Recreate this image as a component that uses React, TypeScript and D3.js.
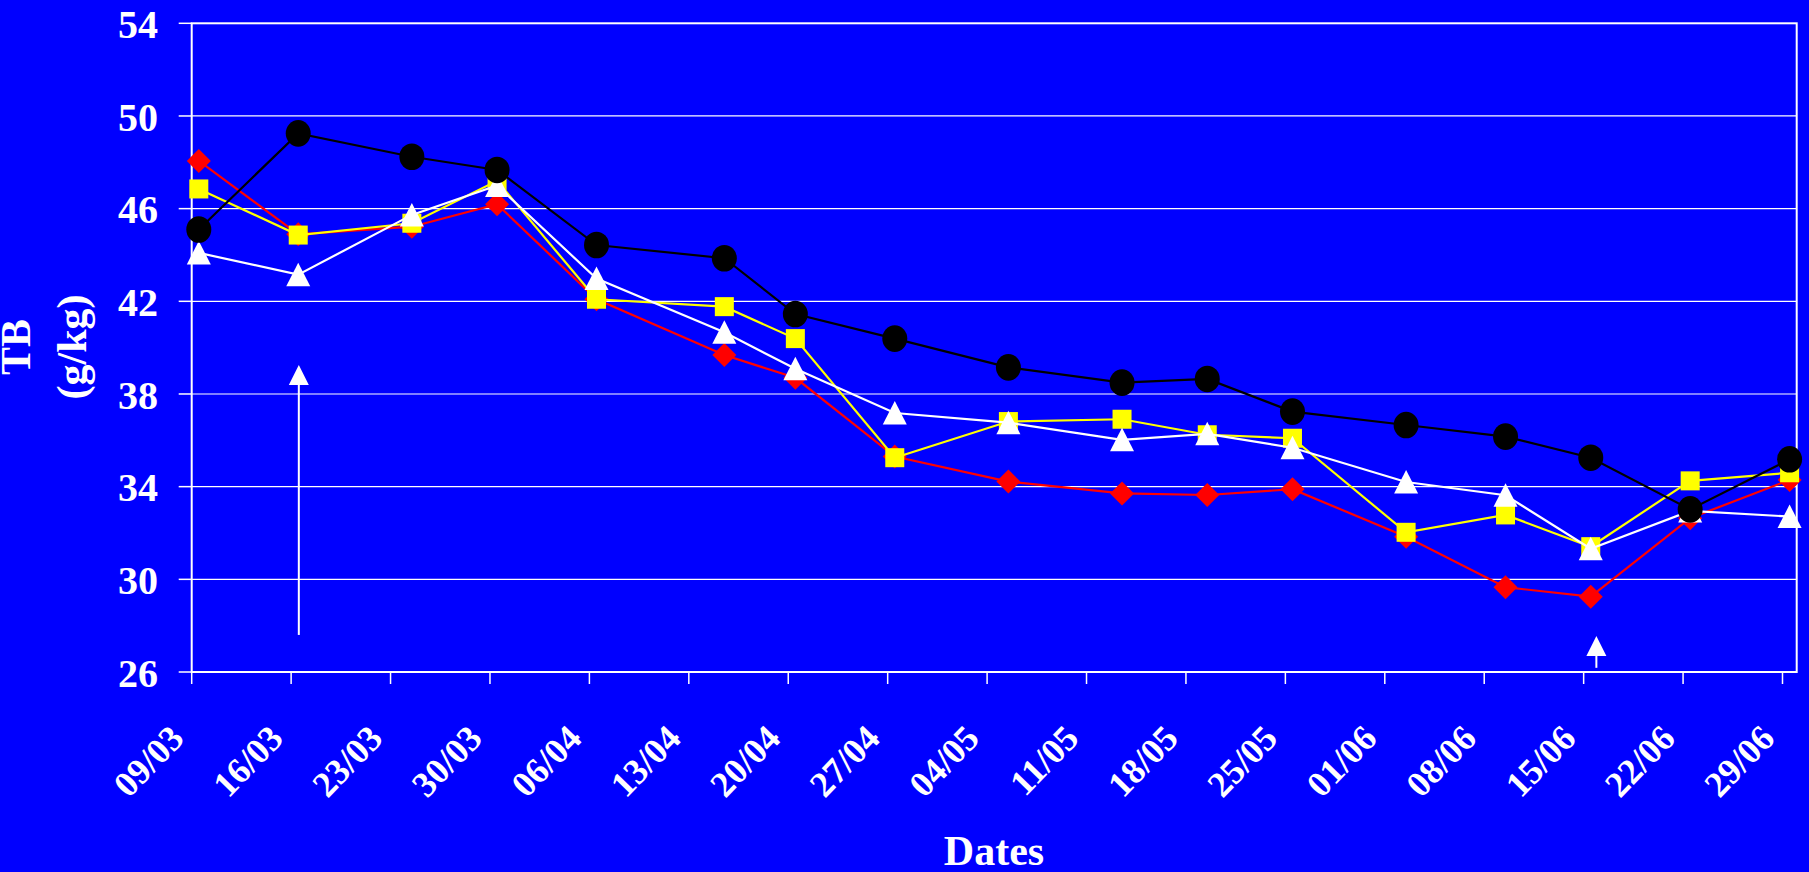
import * as d3 from "d3";

// sample dates (dd/mm), all series share them
const sampleDates = ["09/03", "16/03", "24/03", "30/03", "06/04", "15/04", "20/04", "27/04", "05/05", "13/05", "19/05", "25/05", "02/06", "09/06", "15/06", "22/06", "29/06"];

const circleSeries = [45.1, 49.25, 48.24, 47.67, 44.43, 43.86, 41.45, 40.39, 39.15, 38.49, 38.65, 37.24, 36.66, 36.16, 35.25, 33.02, 35.18];
const diamondSeries = [48.06, 44.89, 45.22, 46.19, 42.09, 39.68, 38.7, 35.3, 34.22, 33.71, 33.64, 33.89, 31.84, 29.66, 29.25, 32.64, 34.29];
const squareSeries = [46.85, 44.86, 45.37, 47.2, 42.09, 41.77, 40.39, 35.25, 36.81, 36.91, 36.24, 36.09, 32.03, 32.78, 31.41, 34.25, 34.6];
const triangleSeries = [44.09, 43.15, 45.73, 47.0, 42.98, 40.66, 39.09, 37.18, 36.76, 36.02, 36.28, 35.68, 34.2, 33.63, 31.32, 32.95, 32.71];

const yTicks = [26, 30, 34, 38, 42, 46, 50, 54];

// arrows: date + time, top and bottom in g/kg
const arrows = [
  { at: "16/03 13:00", top: 39.25, bottom: 27.6 },
  { at: "15/06 21:30", top: 27.55, bottom: 26.18 },
];

const W = 1809;
const H = 872;
const margin = { top: 23.3, right: 12.3, bottom: 200, left: 191.7 };
const FONT = "'Liberation Serif', 'Times New Roman', serif";

const parseDay = (s: string) => {
  const [d, m] = s.split("/").map(Number);
  return new Date(Date.UTC(2004, m - 1, d, 12));
};
const parseAt = (s: string) => {
  const [dm, hm] = s.split(" ");
  const [d, m] = dm.split("/").map(Number);
  const [h, mi] = hm.split(":").map(Number);
  return new Date(Date.UTC(2004, m - 1, d, h, mi));
};

const App = () => {
  const start = new Date(Date.UTC(2004, 2, 9));
  const end = new Date(Date.UTC(2004, 5, 30));
  const x = d3.scaleUtc().domain([start, end]).range([margin.left, W - margin.right]);
  const y = d3.scaleLinear().domain([26, 54]).range([672, margin.top]);
  const xTicks = d3.utcDay.range(start, end, 7);
  const fmt = d3.utcFormat("%d/%m");
  const dates = sampleDates.map(parseDay);

  const line = (vals: number[]) =>
    d3
      .line<number>()
      .x((_, i) => x(dates[i]))
      .y((v) => y(v))(vals) || "";

  const series = [
    { vals: diamondSeries, color: "#ff0000", shape: "diamond" },
    { vals: squareSeries, color: "#ffff00", shape: "square" },
    { vals: triangleSeries, color: "#ffffff", shape: "triangle" },
    { vals: circleSeries, color: "#000000", shape: "circle" },
  ];

  const marker = (shape: string, cx: number, cy: number, color: string, key: number) => {
    if (shape === "circle") return <ellipse key={key} cx={cx} cy={cy} rx={12.5} ry={13.3} fill={color} />;
    if (shape === "square") return <rect key={key} x={cx - 9.5} y={cy - 9.5} width={19} height={19} fill={color} />;
    if (shape === "diamond")
      return <path key={key} d={`M${cx},${cy - 12}L${cx + 12},${cy}L${cx},${cy + 12}L${cx - 12},${cy}Z`} fill={color} />;
    return <path key={key} d={`M${cx},${cy - 12}L${cx + 12},${cy + 11.5}L${cx - 12},${cy + 11.5}Z`} fill={color} />;
  };

  const x0 = margin.left;
  const x1 = W - margin.right;

  return (
    <svg width={W} height={H} style={{ position: "absolute", left: 0, top: 0, display: "block" }} fontFamily={FONT} fontWeight="bold">
      <rect width={W} height={H} fill="#0000ff" />

      {/* gridlines */}
      {yTicks.slice(1, -1).map((t) => (
        <line key={t} x1={x0} x2={x1} y1={y(t)} y2={y(t)} stroke="#ffffff" strokeWidth={1.2} />
      ))}
      {/* plot border */}
      <rect x={x0} y={y(54)} width={x1 - x0} height={y(26) - y(54)} fill="none" stroke="#ffffff" strokeWidth={2} />

      {/* y axis ticks + labels */}
      {yTicks.map((t) => (
        <g key={t}>
          <line x1={x0 - 13} x2={x0} y1={y(t)} y2={y(t)} stroke="#ffffff" strokeWidth={1.5} />
          <text x={158} y={y(t)} dy="0.37em" textAnchor="end" fontSize={40} fill="#ffffff">
            {t}
          </text>
        </g>
      ))}

      {/* x axis ticks + labels */}
      {xTicks.map((d, i) => (
        <g key={i}>
          <line x1={x(d)} x2={x(d)} y1={y(26)} y2={y(26) + 12} stroke="#ffffff" strokeWidth={1.5} />
          <text
            transform={`translate(${x(d) - 6},740) rotate(-46)`}
            textAnchor="end"
            fontSize={36}
            fill="#ffffff"
          >
            {fmt(d)}
          </text>
        </g>
      ))}

      {/* axis titles */}
      <text x={994} y={865} textAnchor="middle" fontSize={42} fill="#ffffff">
        Dates
      </text>
      <text transform="translate(30,347) rotate(-90)" textAnchor="middle" fontSize={42} fill="#ffffff">
        TB
      </text>
      <text transform="translate(85.5,347) rotate(-90)" textAnchor="middle" fontSize={42} fill="#ffffff">
        (g/kg)
      </text>

      {/* arrows */}
      {arrows.map((a, i) => {
        const ax = x(parseAt(a.at));
        const top = y(a.top);
        const bot = y(a.bottom);
        return (
          <g key={i}>
            <line x1={ax} x2={ax} y1={top + 18} y2={bot} stroke="#ffffff" strokeWidth={2} />
            <path d={`M${ax},${top}L${ax + 10},${top + 20}L${ax - 10},${top + 20}Z`} fill="#ffffff" />
          </g>
        );
      })}

      {/* series */}
      {series.map((s, si) => (
        <g key={si}>
          <path d={line(s.vals)} fill="none" stroke={s.color} strokeWidth={2.2} />
          {s.vals.map((v, i) => marker(s.shape, x(dates[i]), y(v), s.color, i))}
        </g>
      ))}
    </svg>
  );
};

export default App;
